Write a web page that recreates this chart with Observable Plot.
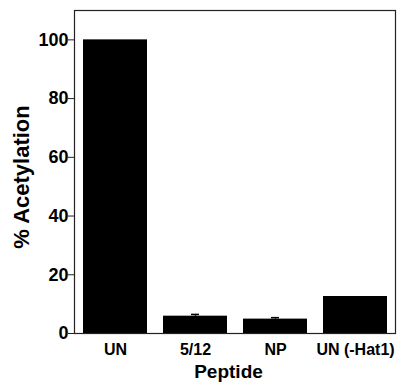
<!DOCTYPE html>
<html><head><meta charset="utf-8">
<script src="https://cdn.jsdelivr.net/npm/d3@7"></script>
<script src="https://cdn.jsdelivr.net/npm/@observablehq/plot@0.6"></script>
<style>body{margin:0;background:#fff}</style>
</head><body><div id="chart"></div>
<script>
const categories = ["UN", "5/12", "NP", "UN (-Hat1)"];
const values = [100, 5.9, 4.9, 12.6];
const errors = [0, 0.6, 0.5, 0];
const yTicks = [0, 20, 40, 60, 80, 100];
const xTitle = "Peptide";
const yTitle = "% Acetylation";

const data = categories.map((c, i) => ({cat: c, v: values[i], e: errors[i]}));
const errData = data.filter(d => d.e > 0);
const font = "'Liberation Sans', Arial, sans-serif";

const chart = Plot.plot({
  width: 398, height: 382,
  marginLeft: 74, marginRight: 3, marginTop: 10, marginBottom: 49,
  style: {fontFamily: font, fontWeight: "bold", fontSize: "16px", color: "#000", background: "#fff"},
  x: {domain: categories, paddingInner: 0.2, paddingOuter: 0.1, label: null},
  y: {domain: [0, 110], label: null},
  marks: [
    Plot.barY(data, {x: "cat", y: "v", fill: "#000"}),
    Plot.ruleX(errData, {x: "cat", y1: "v", y2: d => d.v + d.e, stroke: "#000", strokeWidth: 1.5}),
    Plot.tickY(errData, {x: "cat", y: d => d.v + d.e, stroke: "#000", strokeWidth: 1.5, insetLeft: 28, insetRight: 28}),
    Plot.axisX({tickSize: 0, tickPadding: 10, fontSize: 16, label: null}),
    Plot.axisY({ticks: yTicks, tickSize: 6, tickPadding: 0, fontSize: 18, label: null, stroke: "#222"}),
    Plot.frame({stroke: "#222", strokeWidth: 1.2})
  ]
});
const svg = d3.select(chart);
svg.append("text").text(xTitle)
  .attr("x", 228.5).attr("y", 378)
  .attr("text-anchor", "middle")
  .style("font-family", font).style("font-weight", "bold").style("font-size", "19px").attr("fill", "#000");
svg.append("text").text(yTitle)
  .attr("transform", "translate(29,177) rotate(-90)")
  .attr("text-anchor", "middle")
  .style("font-family", font).style("font-weight", "bold").style("font-size", "22px").attr("fill", "#000");
document.getElementById("chart").appendChild(chart);
</script>
</body></html>
